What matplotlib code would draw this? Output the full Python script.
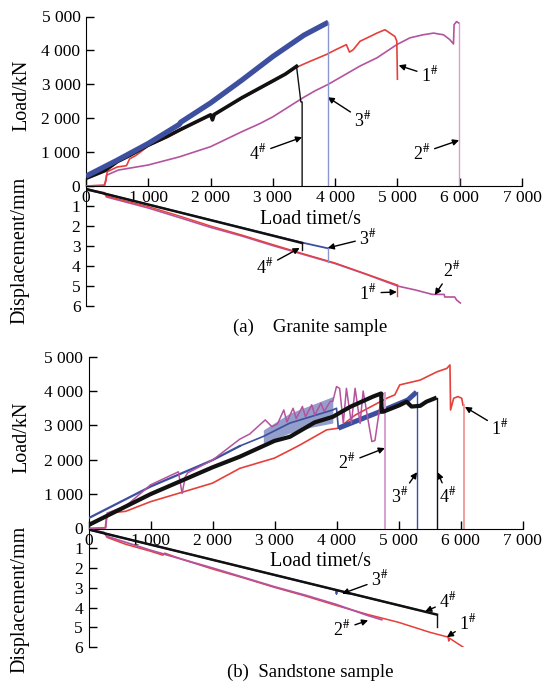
import matplotlib
matplotlib.use('Agg')
import matplotlib.pyplot as plt
from matplotlib.ticker import FuncFormatter

plt.rcParams['font.family'] = ['Liberation Serif', 'DejaVu Serif']
plt.rcParams['mathtext.fontset'] = 'stix'

# ---------------- data: panel (a) granite, load (kN) vs time (s) ----------------
a_blue_t = [0, 500, 1000, 1500, 1520, 2000, 2500, 3000, 3500, 3890]
a_blue_load = [290, 760, 1255, 1820, 1880, 2450, 3120, 3820, 4450, 4830]
a_blue_end = 3890

a_black_t = [0, 300, 500, 700, 1000, 1300, 1500, 2000, 2030, 2060, 2500, 3000, 3200, 3380]
a_black_load = [225, 450, 715, 900, 1205, 1460, 1650, 2100, 1950, 2110, 2600, 3100, 3300, 3530]
a_black_drop_t = [3380, 3450, 3470, 3470]
a_black_drop_load = [3530, 2480, 2480, 0]

a_red_t = [0, 290, 320, 340, 500, 650, 700, 800, 1000, 1300, 1600, 2000, 2500, 3000, 3390,
           3600, 3860, 4020, 4180, 4230, 4290, 4400, 4560, 4670, 4800, 4880, 4960, 4990, 5000]
a_red_load = [0, 20, 150, 420, 560, 600, 800, 900, 1180, 1430, 1720, 2080, 2580, 3080, 3510,
              3680, 3880, 4030, 4170, 3950, 4020, 4270, 4410, 4510, 4610, 4510, 4410, 4270, 3150]

a_mag_t = [0, 300, 330, 520, 1000, 1500, 2000, 2500, 2790, 3000, 3490, 3680, 3890, 4400,
           4670, 4990, 5200, 5410, 5580, 5740, 5840, 5900, 5910, 5950, 5990]
a_mag_load = [0, 20, 320, 470, 620, 860, 1160, 1600, 1840, 2040, 2610, 2810, 3000, 3540,
              3780, 4170, 4370, 4460, 4510, 4460, 4320, 4190, 4760, 4850, 4800]
a_mag_end = 5990

# panel (a) displacement (mm) vs time (s)
a_blue_d_t = [0, 3470, 3890]
a_blue_d = [0.15, 2.83, 3.12]
a_blue_d_drop = [3.12, 3.8]
a_black_d_t = [0, 3470]
a_black_d = [0.15, 2.85]
a_black_d_drop = [2.85, 3.2]
a_red_d_t = [0, 250, 300, 330, 1000, 1500, 2000, 2500, 3000, 3500, 4000, 4500, 5000]
a_red_d = [0.15, 0.3, 0.33, 0.5, 1.03, 1.5, 2.0, 2.45, 2.93, 3.4, 3.85, 4.4, 4.95]
a_red_d_drop = [4.95, 5.5]
a_mag_d_t = [0, 250, 300, 330, 1000, 1500, 2000, 2500, 3000, 3500, 4000, 4500, 5000,
             5290, 5560, 5750, 5760, 5920, 5950, 6010]
a_mag_d = [0.2, 0.35, 0.4, 0.55, 1.1, 1.58, 2.07, 2.5, 2.98, 3.43, 3.88, 4.42, 5.0,
           5.2, 5.42, 5.42, 5.55, 5.55, 5.7, 5.85]

# ---------------- data: panel (b) sandstone ----------------
b_red_t = [0, 270, 290, 330, 600, 1000, 1500, 2000, 2440, 3000, 3250, 3410, 3840, 4030, 4300,
           4810, 4940, 5020, 5350, 5620, 5780, 5830, 5840, 5890, 5960, 6020, 6040]
b_red_load = [0, 20, 300, 450, 500, 780, 1050, 1320, 1750, 2050, 2280, 2430, 2870, 2920, 3300,
              3790, 3890, 4180, 4320, 4560, 4660, 4760, 3450, 3790, 3840, 3790, 3590]
b_red_end = 6060

b_black_t = [0, 1000, 2000, 2440, 3000, 3250, 3650, 3940, 4220, 4590, 4720, 4730, 4755,
             5020, 5130, 5210, 5350, 5450, 5615]
b_black_load = [100, 1000, 1780, 2090, 2550, 2670, 3090, 3250, 3540, 3840, 3930, 3400, 3400,
                3590, 3690, 3550, 3570, 3690, 3810]
b_black_end = 5625

b_blue_t = [0, 1000, 2000, 2440, 2820, 3250, 3940, 4000, 4030, 4700, 5150, 5290]
b_blue_load = [300, 1220, 1990, 2400, 2680, 3070, 3450, 3500, 2920, 3400, 3740, 3970]
b_blue_end = 5300
# saw-tooth band of specimen 3# (lower / upper envelope)
b_blue_band_t = [2820, 3250, 3600, 3940]
b_blue_band_lo = [2490, 2780, 2950, 3070]
b_blue_band_hi = [2870, 3360, 3600, 3840]

b_mag_t = [0, 280, 300, 600, 1000, 1450, 1510, 1560, 1600, 2000, 2440, 2600, 2850, 2960,
           3050, 3150, 3200, 3300, 3350, 3450, 3500, 3600, 3650, 3750, 3800, 3900, 3940,
           4000, 4050, 4110, 4160, 4240, 4300, 4380, 4430, 4510,
           4570, 4620, 4700, 4750]
b_mag_load = [0, 20, 450, 650, 1270, 1650, 1020, 1500, 1620, 1990, 2600, 2750, 3160, 2960,
              3050, 3450, 3100, 3500, 3200, 3550, 3250, 3600, 3300, 3650, 3400, 3700, 3700,
              4130, 4080, 3060, 4080, 3060, 4080, 3060, 4000, 3150,
              2530, 2560, 3550, 3930]
b_mag_end = 4780

# panel (b) displacement
b_black_d_t = [0, 5620]
b_black_d = [0.05, 4.36]
b_black_d_drop = [4.36, 5.0]
b_blue_d_t = [0, 4000, 4000, 4000, 5280]
b_blue_d = [0.05, 3.12, 3.3, 3.12, 4.1]
b_red_d_t = [0, 250, 300, 600, 1000, 1200, 1230, 1500, 2000, 2500, 3000, 3500, 4000, 4500,
             5000, 5500, 5800, 5810, 5820, 6040]
b_red_d = [0.05, 0.2, 0.45, 0.8, 1.15, 1.35, 1.25, 1.55, 2.05, 2.5, 2.98, 3.42, 3.9, 4.35,
           4.75, 5.25, 5.5, 5.7, 5.55, 6.0]
b_mag_d_t = [0, 250, 300, 1000, 2000, 3000, 3500, 4000, 4500, 4730]
b_mag_d = [0.05, 0.2, 0.4, 1.1, 2.0, 2.95, 3.38, 3.85, 4.4, 4.62]

x_ticks = [0, 1000, 2000, 3000, 4000, 5000, 6000, 7000]
load_ticks = [0, 1000, 2000, 3000, 4000, 5000]
disp_ticks = [1, 2, 3, 4, 5, 6]

# colours
BLUE, BLUE_L = '#3d4f9f', '#8d97cf'
BLACK = '#111111'
RED, RED_L = '#e5403a', '#f08c8c'
MAG, MAG_L = '#b4539e', '#d8a0d0'

W, H = 542, 689
fig = plt.figure(figsize=(W / 100, H / 100), dpi=100)


def box(l, t, r, b):
    return [l / W, 1 - b / H, (r - l) / W, (b - t) / H]


def thousands(v, pos):
    v = int(round(v))
    if v == 0:
        return '0'
    return f'{v // 1000} {v % 1000:03d}'


def make_panel(x0, x7, y5, y0, yd6):
    axL = fig.add_axes(box(x0, y5, x7, y0))
    axD = fig.add_axes(box(x0, y0, x7, yd6))
    for ax in (axL, axD):
        ax.set_xlim(0, 7000)
        ax.spines['top'].set_visible(False)
        ax.spines['right'].set_visible(False)
        ax.patch.set_visible(False)
    axL.set_ylim(0, 5000)
    axL.set_xticks(x_ticks)
    axL.set_yticks(load_ticks)
    axL.xaxis.set_major_formatter(FuncFormatter(thousands))
    axL.yaxis.set_major_formatter(FuncFormatter(thousands))
    axL.tick_params(axis='both', direction='in', length=6, width=1, labelsize=12.5)
    axL.tick_params(axis='x', pad=3)
    axL.tick_params(axis='y', pad=4)
    axD.set_ylim(6, 0)
    axD.spines['bottom'].set_visible(False)
    axD.set_xticks([])
    axD.set_yticks(disp_ticks)
    axD.tick_params(axis='y', direction='in', length=6, width=1, labelsize=12.5, pad=4)
    return axL, axD


def note(ax, label, xytext, xy):
    ax.annotate(label, xy=xy, xytext=xytext, ha='center', va='center', fontsize=13,
                annotation_clip=False,
                arrowprops=dict(arrowstyle='-|>', color='black', lw=1.0,
                                mutation_scale=9, shrinkA=1, shrinkB=0))


def lab(n):
    return n + r'$^{\#}$'


# ---------------- panel (a) ----------------
aL, aD = make_panel(86, 522, 16.5, 186, 306)
aL.plot(a_mag_t, a_mag_load, color=MAG, lw=1.2, zorder=2)
aL.plot([a_mag_end, a_mag_end], [a_mag_load[-1], 0], color=MAG_L, lw=1.0, zorder=2)
aL.plot(a_red_t, a_red_load, color=RED, lw=1.2, zorder=3)
aL.plot(a_black_t, a_black_load, color=BLACK, lw=2.6, zorder=4)
aL.plot(a_black_drop_t, a_black_drop_load, color=BLACK, lw=1.0, zorder=4)
aL.plot(a_blue_t, a_blue_load, color=BLUE, lw=3.8, zorder=5, solid_capstyle='butt')
aL.plot([a_blue_end, a_blue_end], [a_blue_load[-1], 0], color=BLUE_L, lw=1.0, zorder=5)

aD.plot(a_mag_d_t, a_mag_d, color=MAG, lw=1.2)
aD.plot(a_red_d_t, a_red_d, color=RED, lw=1.0)
aD.plot([a_red_d_t[-1]] * 2, a_red_d_drop, color=RED, lw=1.0)
aD.plot(a_blue_d_t, a_blue_d, color=BLUE, lw=1.3)
aD.plot([a_blue_d_t[-1]] * 2, a_blue_d_drop, color=BLUE_L, lw=1.0)
aD.plot(a_black_d_t, a_black_d, color=BLACK, lw=1.8)
aD.plot([a_black_d_t[-1]] * 2, a_black_d_drop, color=BLACK, lw=1.0)

note(aL, lab('1'), (5520, 3260), (5020, 3560))
note(aL, lab('3'), (4450, 1940), (3880, 2620))
note(aL, lab('4'), (2760, 970), (3470, 1440))
note(aL, lab('2'), (5390, 970), (5990, 1350))
note(aD, lab('3'), (4530, 2.6), (3880, 3.1))
note(aD, lab('4'), (2870, 4.05), (3430, 3.1))
note(aD, lab('1'), (4530, 5.35), (4990, 5.3))
note(aD, lab('2'), (5870, 4.2), (5600, 5.45))

# ---------------- panel (b) ----------------
bL, bD = make_panel(88.5, 522.5, 356.7, 528.5, 647)
bL.plot(b_red_t, b_red_load, color=RED, lw=1.2, zorder=2)
bL.plot([b_red_end, b_red_end], [b_red_load[-1], 0], color=RED_L, lw=1.2, zorder=2)
bL.fill_between(b_blue_band_t, b_blue_band_lo, b_blue_band_hi, color=BLUE, alpha=0.55,
                lw=0, zorder=3)
bL.plot(b_blue_t[:4], b_blue_load[:4], color=BLUE, lw=1.6, zorder=3)
bL.plot(b_blue_t[3:9], b_blue_load[3:9], color=BLUE, lw=1.2, zorder=3)
bL.plot(b_blue_t[8:], b_blue_load[8:], color=BLUE, lw=3.6, zorder=3, solid_capstyle='butt')
bL.plot([b_blue_end, b_blue_end], [b_blue_load[-1], 0], color=BLUE, lw=1.0, zorder=3)
bL.plot(b_mag_t, b_mag_load, color=MAG, lw=1.1, zorder=4)
bL.plot([b_mag_end, b_mag_end], [b_mag_load[-1], 0], color=MAG_L, lw=1.4, zorder=4)
bL.plot(b_black_t, b_black_load, color=BLACK, lw=3.0, zorder=5, solid_capstyle='butt')
bL.plot([b_black_end, b_black_end], [b_black_load[-1], 0], color=BLACK, lw=1.0, zorder=5)

bD.plot(b_red_d_t, b_red_d, color=RED, lw=1.1)
bD.plot(b_mag_d_t, b_mag_d, color=MAG, lw=1.3)
bD.plot(b_blue_d_t, b_blue_d, color=BLUE, lw=1.3)
bD.plot(b_black_d_t, b_black_d, color=BLACK, lw=1.8)
bD.plot([b_black_d_t[-1]] * 2, b_black_d_drop, color=BLACK, lw=1.0)

note(bL, lab('1'), (6640, 2920), (6070, 3540))
note(bL, lab('2'), (4170, 1910), (4780, 2340))
note(bL, lab('3'), (5020, 920), (5300, 1640))
note(bL, lab('4'), (5800, 920), (5630, 1640))
note(bD, lab('3'), (4700, 2.6), (4090, 3.3))
note(bD, lab('4'), (5800, 3.7), (5430, 4.2))
note(bD, lab('1'), (6120, 4.8), (5780, 5.5))
note(bD, lab('2'), (4090, 5.1), (4510, 4.65))

# ---------------- texts ----------------
def ftext(x, y, s, **kw):
    fig.text(x / W, 1 - y / H, s, ha='center', va='center', **kw)


ftext(22, 95, 'Load/kN', rotation=90, fontsize=14.5)
ftext(20, 250, 'Displacement/mm', rotation=90, fontsize=14.5)
ftext(310, 219, 'Load timet/s', fontsize=14.5)
ftext(310, 327, '(a)    Granite sample', fontsize=13.5)

ftext(22, 437, 'Load/kN', rotation=90, fontsize=14.5)
ftext(20, 599, 'Displacement/mm', rotation=90, fontsize=14.5)
ftext(320, 562, 'Load timet/s', fontsize=14.5)
ftext(310, 672, '(b)  Sandstone sample', fontsize=13.5)

fig.savefig('out.png', dpi=100)
